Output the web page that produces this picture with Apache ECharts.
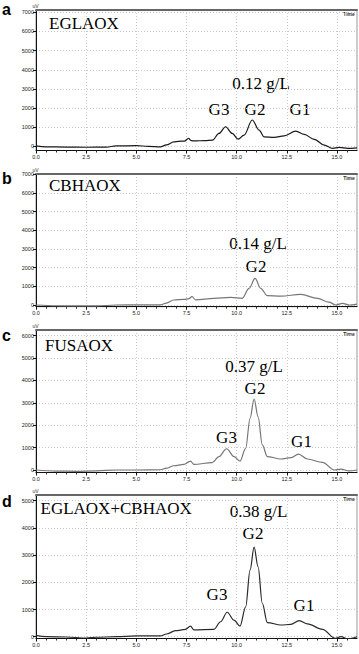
<!DOCTYPE html>
<html>
<head>
<meta charset="utf-8">
<script src="https://cdn.jsdelivr.net/npm/echarts@6/dist/echarts.min.js"></script>
<style>html,body{margin:0;padding:0;background:#fff}#c{width:359px;height:654px}</style>
</head>
<body>
<div id="c"></div>
<script>
// ---- data ----
const panelLetters = ['a', 'b', 'c', 'd'];
const sampleNames = ['EGLAOX', 'CBHAOX', 'FUSAOX', 'EGLAOX+CBHAOX'];
const concentrations = ['0.12 g/L', '0.14 g/L', '0.37 g/L', '0.38 g/L'];
const xTickValues = [0, 2.5, 5, 7.5, 10, 12.5, 15];
const yTicksA = [0, 1000, 2000, 3000, 4000, 5000, 6000, 7000];
const yTicksB = [0, 1000, 2000, 3000, 4000, 5000, 6000, 7000];
const yTicksC = [0, 1000, 2000, 3000, 4000, 5000, 6000];
const yTicksD = [0, 1000, 2000, 3000, 4000, 5000];

const timesA = [0, 0.5, 1.5, 2.5, 3.5, 4.0, 5.0, 5.6, 6.2, 6.5, 6.87, 7.1, 7.4, 7.6, 7.75, 7.9, 8.4, 8.8, 9.12, 9.45, 9.78, 10.08, 10.37, 10.78, 11.12, 11.37, 11.87, 12.37, 12.95, 13.37, 13.87, 14.37, 14.78, 15.12, 15.53, 16.0];
const valuesA = [30, -20, -30, -40, -30, 30, 40, 10, -20, 80, 240, 270, 280, 420, 300, 290, 310, 330, 680, 1030, 680, 380, 590, 1380, 850, 500, 470, 550, 800, 630, 370, 70, -100, -50, -100, -70];

const timesB = [0, 1.0, 2.0, 3.0, 4.0, 5.0, 6.2, 6.5, 6.87, 7.37, 7.6, 7.78, 7.95, 8.87, 9.7, 10.28, 10.62, 10.92, 11.2, 11.53, 12.2, 13.2, 14.03, 14.6, 14.95, 15.28, 15.6, 16.0];
const valuesB = [0, -40, -50, -50, 0, 10, 10, 100, 270, 300, 330, 445, 280, 360, 410, 360, 890, 1430, 890, 500, 480, 570, 360, 150, 0, 90, 0, 50];

const timesC = [0, 1.0, 2.0, 3.0, 4.0, 5.0, 6.2, 6.5, 6.87, 7.37, 7.7, 7.87, 8.78, 9.12, 9.5, 9.87, 10.17, 10.45, 10.67, 10.87, 11.07, 11.28, 11.53, 12.2, 12.7, 13.08, 13.53, 14.28, 14.87, 15.2, 15.6, 16.0];
const valuesC = [0, -50, -60, -40, 0, 0, 10, 80, 190, 250, 400, 250, 330, 600, 950, 600, 400, 970, 2310, 3170, 2380, 1120, 600, 490, 550, 710, 490, 340, 0, 40, -40, 0];

const timesD = [0, 0.5, 1.5, 2.5, 3.0, 4.0, 5.0, 6.2, 6.5, 6.95, 7.45, 7.7, 7.87, 8.87, 9.2, 9.53, 9.87, 10.17, 10.45, 10.67, 10.87, 11.07, 11.28, 11.53, 12.2, 12.7, 13.12, 13.53, 14.28, 14.92, 15.2, 15.53, 16.0];
const valuesD = [50, 0, -10, -50, -20, 0, 30, 30, 100, 220, 270, 390, 250, 270, 550, 900, 610, 390, 1100, 2450, 3290, 2570, 1230, 520, 430, 450, 590, 470, 270, -60, 0, -80, 0];

// ---- layout ----
const panels = [
  {times: timesA, values: valuesA, yTicks: yTicksA, top: 10, height: 140.5, min: -210, max: 7120, color: '#1a1a1a',
   letterY: 9, nameY: 23.5, conc: [261, 83.5], peaks: [['G3', 219, 109], ['G2', 255, 109], ['G1', 300, 109]]},
  {times: timesB, values: valuesB, yTicks: yTicksB, top: 174, height: 132.7, min: -90, max: 7020, color: '#777',
   letterY: 178, nameY: 185.5, conc: [258, 243], peaks: [['G2', 256, 266.5]]},
  {times: timesC, values: valuesC, yTicks: yTicksC, top: 330, height: 142.5, min: -112, max: 6254, color: '#777',
   letterY: 335, nameY: 345, conc: [254, 366.5], peaks: [['G2', 255, 388.5], ['G3', 226.5, 437.5], ['G1', 301.5, 441]]},
  {times: timesD, values: valuesD, yTicks: yTicksD, top: 495, height: 143.5, min: -66, max: 5210, color: '#2a2a2a',
   letterY: 501.5, nameY: 508, conc: [258.5, 511.5], peaks: [['G2', 253, 533], ['G3', 217, 594], ['G1', 304, 605]]}
];

const grids = [], xAxes = [], yAxes = [], series = [], graphics = [];
const labelFont = '"Liberation Sans", Arial, sans-serif';
const serif = '"Liberation Serif", "Times New Roman", serif';

panels.forEach((p, i) => {
  grids.push({left: 36, top: p.top, width: 321, height: p.height, show: true,
    borderColor: '#999', borderWidth: 1, backgroundColor: '#fff'});
  xAxes.push({
    type: 'value', gridIndex: i, position: 'bottom', min: 0, max: 16, interval: 2.5,
    axisLine: {show: true, onZero: false, lineStyle: {color: '#111', width: 1}},
    axisTick: {show: true, inside: false, length: 3, customValues: xTickValues, lineStyle: {color: '#111'}},
    minorTick: {show: true, splitNumber: 5, length: 2, lineStyle: {color: '#333'}},
    axisLabel: {show: true, customValues: xTickValues, formatter: v => v.toFixed(1), fontSize: 5.5,
      color: '#222', margin: 3, fontFamily: labelFont},
    splitLine: {show: true, lineStyle: {color: '#c8c8c8', type: [1, 2], width: 1}}
  });
  xAxes.push({
    type: 'value', gridIndex: i, position: 'top', min: 0, max: 16,
    axisLine: {show: true, onZero: false, lineStyle: {color: '#666', width: 2}},
    axisTick: {show: false}, axisLabel: {show: false}, splitLine: {show: false}
  });
  yAxes.push({
    type: 'value', gridIndex: i, position: 'left', min: p.min, max: p.max,
    axisLine: {show: true, onZero: false, lineStyle: {color: '#111', width: 1}},
    axisTick: {show: true, inside: false, length: 3, customValues: p.yTicks, lineStyle: {color: '#111'}},
    axisLabel: {show: true, customValues: p.yTicks, formatter: v => String(v), fontSize: 5.5, color: '#222',
      margin: 2, fontFamily: labelFont},
    splitLine: {show: true, lineStyle: {color: '#c8c8c8', type: [1, 2], width: 1}}
  });
  series.push({
    type: 'line', xAxisIndex: i * 2, yAxisIndex: i,
    data: p.times.map((t, k) => [t, p.values[k]]),
    showSymbol: false, smooth: 0.35, smoothMonotone: 'x', clip: true,
    lineStyle: {color: p.color, width: 1.2}, silent: true, animation: false
  });
  graphics.push({type: 'text', x: 2, y: p.letterY, style: {text: panelLetters[i], font: 'bold 16px ' + labelFont,
    fill: '#000', textAlign: 'left', textVerticalAlign: 'middle'}});
  graphics.push({type: 'text', x: 35.5, y: p.top - 4.5, style: {text: 'uV', font: '5px ' + labelFont,
    fill: '#333', textAlign: 'center', textVerticalAlign: 'middle'}});
  graphics.push({type: 'text', x: 349, y: p.top + 3.5, style: {text: 'Time', font: 'bold 5px ' + labelFont,
    fill: '#333', textAlign: 'center', textVerticalAlign: 'middle'}});
  graphics.push({type: 'text', x: i === 3 ? 40.5 : (i === 2 ? 45 : 49), y: p.nameY, style: {text: sampleNames[i],
    font: '17px ' + serif, fill: '#000', textAlign: 'left', textVerticalAlign: 'middle'}});
  graphics.push({type: 'text', x: p.conc[0], y: p.conc[1], style: {text: concentrations[i],
    font: '17px ' + serif, fill: '#000', textAlign: 'center', textVerticalAlign: 'middle'}});
  p.peaks.forEach(pk => {
    graphics.push({type: 'text', x: pk[1], y: pk[2], style: {text: pk[0],
      font: '17px ' + serif, fill: '#000', textAlign: 'center', textVerticalAlign: 'middle'}});
  });
});

const chart = echarts.init(document.getElementById('c'), null, {renderer: 'svg', width: 359, height: 654});
chart.setOption({
  backgroundColor: '#fff',
  animation: false,
  grid: grids, xAxis: xAxes, yAxis: yAxes, series: series,
  graphic: {elements: graphics}
});
</script>
</body>
</html>
